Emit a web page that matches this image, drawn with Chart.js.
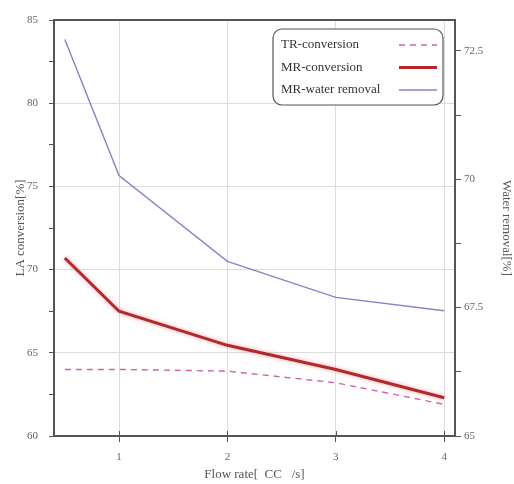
<!DOCTYPE html>
<html>
<head>
<meta charset="utf-8">
<script src="https://cdn.jsdelivr.net/npm/chart.js@4"></script>
<style>
  html, body { margin: 0; padding: 0; background: #fff; }
  #wrap { width: 514px; height: 484px; }
</style>
</head>
<body>
<div id="wrap"><canvas id="flowChart" width="514" height="484"></canvas></div>
<script>
// flow rate [cc/s]
const flowRates = [0.5, 1, 2, 3, 4];
// conversion [%], left axis
const trConversion = [64.0, 64.0, 63.9, 63.2, 61.9];
const mrConversion = [70.7, 67.5, 65.45, 64.0, 62.3];
// water removal [%], right axis
const mrWaterRemoval = [72.72, 70.07, 68.4, 67.7, 67.44];

const xTicks = [1, 2, 3, 4];
const leftTicks = [60, 65, 70, 75, 80, 85];
const rightTicks = [65, 67.5, 70, 72.5];

const toPoints = (ys) => flowRates.map((x, i) => ({ x: x, y: ys[i] }));

Chart.defaults.font.family = "'Liberation Serif', 'Times New Roman', serif";
Chart.defaults.color = "#666";

// soft halo under the thick MR-conversion line
const lineGlow = {
  id: "lineGlow",
  beforeDatasetDraw(chart, args) {
    if (args.index !== 1) return;
    chart.ctx.save();
    chart.ctx.shadowColor = "rgba(240,120,140,0.7)";
    chart.ctx.shadowBlur = 4;
  },
  afterDatasetDraw(chart, args) {
    if (args.index !== 1) return;
    chart.ctx.restore();
  }
};

// box around the plot, inner x ticks, and the legend in the upper right corner
const frameAndLegend = {
  id: "frameAndLegend",
  afterDatasetsDraw(chart) {
    const { ctx, chartArea: a } = chart;
    ctx.save();
    ctx.strokeStyle = "#555";
    ctx.lineWidth = 2;
    ctx.strokeRect(a.left, a.top, a.right - a.left, a.bottom - a.top);

    ctx.lineWidth = 1;
    xTicks.forEach((v) => {
      const px = Math.round(chart.scales.x.getPixelForValue(v)) + 0.5;
      ctx.beginPath();
      ctx.moveTo(px, a.bottom);
      ctx.lineTo(px, a.bottom - 5);
      ctx.stroke();
    });

    // legend
    const bx = 273, by = 29, bw = 170, bh = 76;
    ctx.fillStyle = "#fff";
    ctx.strokeStyle = "#555";
    ctx.lineWidth = 1.2;
    ctx.beginPath();
    ctx.roundRect(bx, by, bw, bh, 9);
    ctx.fill();
    ctx.stroke();

    ctx.font = "13px 'Liberation Serif', serif";
    ctx.textBaseline = "middle";
    chart.data.datasets.forEach((ds, i) => {
      const y = by + 16 + i * 22.5;
      ctx.fillStyle = "#333";
      ctx.fillText(ds.label, bx + 8, y);
      ctx.strokeStyle = ds.borderColor;
      ctx.lineWidth = ds.borderWidth;
      ctx.setLineDash(ds.borderDash || []);
      ctx.beginPath();
      ctx.moveTo(bx + 126, y);
      ctx.lineTo(bx + 164, y);
      ctx.stroke();
      ctx.setLineDash([]);
    });
    ctx.restore();
  }
};

new Chart(document.getElementById("flowChart"), {
  type: "line",
  data: {
    datasets: [
      {
        label: "TR-conversion",
        data: toPoints(trConversion),
        yAxisID: "y",
        borderColor: "#cc66aa",
        borderWidth: 1.4,
        borderDash: [6, 5],
        pointRadius: 0,
        tension: 0
      },
      {
        label: "MR-conversion",
        data: toPoints(mrConversion),
        yAxisID: "y",
        borderColor: "#b02a2a",
        borderWidth: 3,
        pointRadius: 0,
        tension: 0
      },
      {
        label: "MR-water removal",
        data: toPoints(mrWaterRemoval),
        yAxisID: "y2",
        borderColor: "#8484c8",
        borderWidth: 1.4,
        pointRadius: 0,
        tension: 0
      }
    ]
  },
  options: {
    responsive: false,
    animation: false,
    layout: { padding: { top: 20, left: 0, right: 0, bottom: 0 } },
    plugins: {
      legend: { display: false },
      tooltip: { enabled: false }
    },
    scales: {
      x: {
        type: "linear",
        min: 0.4,
        max: 4.1,
        afterBuildTicks: (s) => { s.ticks = xTicks.map((v) => ({ value: v })); },
        afterFit: (s) => { s.height = 48; },
        border: { display: false },
        grid: { color: "#ddd", tickColor: "#555", tickLength: 6, lineWidth: 1 },
        ticks: { font: { size: 11 }, padding: 9, color: "#666" },
        title: {
          display: true,
          text: "Flow rate[  CC   /s]",
          font: { size: 13 },
          color: "#555",
          padding: { top: 0, bottom: 2 }
        }
      },
      y: {
        position: "left",
        min: 60,
        max: 85,
        afterBuildTicks: (s) => {
          const t = [];
          for (let v = 60; v <= 85; v += 2.5) t.push({ value: v });
          s.ticks = t;
        },
        afterFit: (s) => { s.width = 54; },
        border: { display: false },
        grid: {
          color: (c) => (c.tick && leftTicks.includes(c.tick.value) && c.tick.value !== 60 && c.tick.value !== 85 ? "#ddd" : "rgba(0,0,0,0)"),
          tickColor: "#555",
          tickLength: 5
        },
        ticks: {
          font: { size: 11 },
          padding: 11,
          color: "#666",
          callback: (v) => (leftTicks.includes(v) ? String(v) : "")
        },
        title: {
          display: true,
          text: "LA conversion[%]",
          font: { size: 13 },
          color: "#555",
          padding: { top: 13, bottom: 0 }
        }
      },
      y2: {
        position: "right",
        min: 65,
        max: 73.1,
        afterBuildTicks: (s) => {
          const t = [];
          for (let v = 65; v <= 72.5; v += 1.25) t.push({ value: v });
          s.ticks = t;
        },
        afterFit: (s) => { s.width = 59; },
        border: { display: false },
        grid: { drawOnChartArea: false, tickColor: "#555", tickLength: 6 },
        ticks: {
          font: { size: 11 },
          padding: 3,
          color: "#666",
          callback: (v) => (rightTicks.includes(v) ? String(v) : "")
        },
        title: {
          display: true,
          text: "Water removal[%]",
          font: { size: 13 },
          color: "#555",
          padding: { top: 0, bottom: 7 }
        }
      }
    }
  },
  plugins: [lineGlow, frameAndLegend]
});
</script>
</body>
</html>
